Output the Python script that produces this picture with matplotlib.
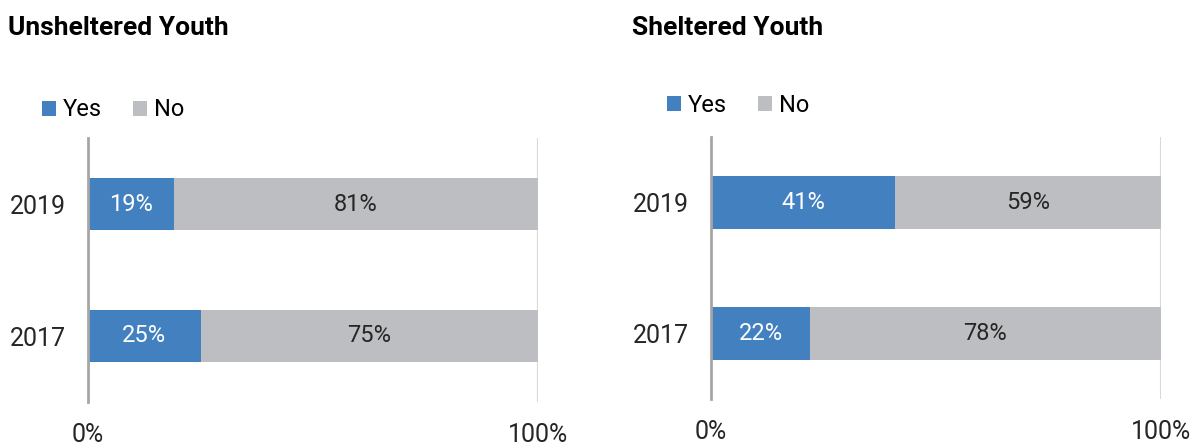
import matplotlib.pyplot as plt
import numpy as np

plt.rcParams['font.family'] = ['Roboto', 'DejaVu Sans']

years = ['2017', '2019']
unsheltered_yes = [25, 19]
unsheltered_no = [75, 81]
sheltered_yes = [22, 41]
sheltered_no = [78, 59]
titles = ['Unsheltered Youth', 'Sheltered Youth']

blue = '#4380BF'
grey = '#BDBEC1'

W, H = 1193, 445
fig = plt.figure(figsize=(W / 100, H / 100), dpi=100)

# axes boxes in pixels: left, top, right, bottom
boxes = [(88, 138, 538, 402), (711, 137, 1161, 399)]
leg_pos = [(42, 110), (667, 105)]
title_pos = [(8, 28), (632, 28)]
data = [(unsheltered_yes, unsheltered_no), (sheltered_yes, sheltered_no)]

for i in range(2):
    l, t, r, b = boxes[i]
    ax = fig.add_axes([l / W, 1 - b / H, (r - l) / W, (b - t) / H])
    yes, no = data[i]
    y = np.arange(len(years))
    ax.barh(y, yes, height=0.4, color=blue, label='Yes', zorder=3)
    ax.barh(y, no, left=yes, height=0.4, color=grey, label='No', zorder=3)
    for yy, a, bb in zip(y, yes, no):
        ax.text(a / 2, yy, f'{a}%', ha='center', va='center', color='white', fontsize=17)
        ax.text(a + bb / 2, yy, f'{bb}%', ha='center', va='center', color='#262626', fontsize=17)

    ax.set_xlim(0, 100)
    ax.set_ylim(-0.5, 1.5)
    ax.set_yticks(y)
    ax.set_yticklabels(years)
    ax.set_xticks([0, 100])
    ax.set_xticklabels(['0%', '100%'])
    ax.tick_params(axis='both', length=0, labelsize=18, colors='#262626')
    ax.tick_params(axis='y', pad=16)
    ax.tick_params(axis='x', pad=15)
    for s in ['top', 'right', 'bottom']:
        ax.spines[s].set_visible(False)
    ax.spines['left'].set_color('#A6A6A6')
    ax.spines['left'].set_linewidth(2)
    ax.spines['left'].set_zorder(4)
    ax.axvline(100, color='#D9D9D9', linewidth=1.5, zorder=1)

    lx, ly = leg_pos[i]
    ax.legend(loc='center left', bbox_to_anchor=(lx / W, 1 - ly / H),
              bbox_transform=fig.transFigure, ncol=2, frameon=False,
              fontsize=17, handlelength=0.6, handleheight=0.6,
              handletextpad=0.3, columnspacing=1.3, borderpad=0, borderaxespad=0)

    tx, ty = title_pos[i]
    fig.text(tx / W, 1 - ty / H, titles[i], ha='left', va='center',
             fontsize=19, fontweight='bold', color='black')

fig.savefig('out.png', dpi=100)
